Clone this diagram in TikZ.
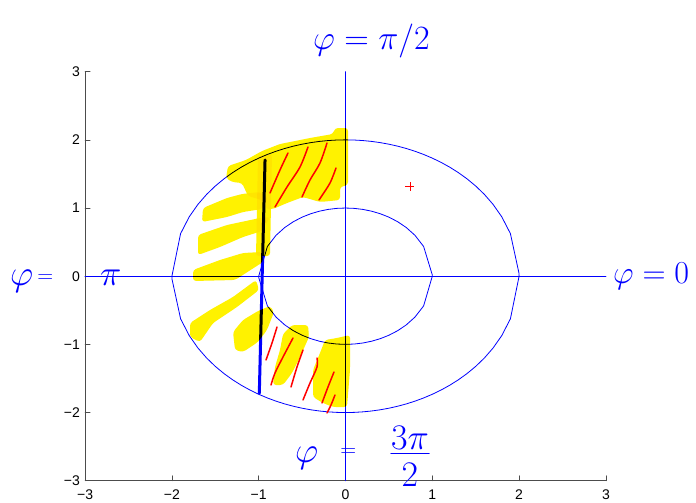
\RequirePackage{fix-cm}
\documentclass[tikz,border=0pt]{standalone}
\usepackage{fontspec}
\setsansfont{Liberation Sans}
\begin{document}
\begin{tikzpicture}[x=1pt, y=-1pt, line join=round, line cap=round,
	axisline/.style={black!70, line width=0.7pt},
	ticklabel/.style={font=\sffamily\fontsize{14}{16}\selectfont, inner sep=0pt},
	curve/.style={blue, line width=0.8pt},
	pen/.style={blue, line width=3pt},
	marker/.style={yellow, rounded corners=3pt},
	hatch/.style={red, line width=1.5pt},
	hand/.style={blue, inner sep=0pt, font=\fontsize{34}{40}\selectfont}]
	
	\useasboundingbox (0,0) rectangle (696,503);
	
	% plot in data units
	\begin{scope}[shift={(345.5,276.2)}, x=86.8pt, y=68.17pt]
		\def\R{2}
		\def\r{1}
		\coordinate (O) at (0,0);
		\coordinate (LB) at (-3,-3);
		\coordinate (LT) at (-3,3);
		\coordinate (RB) at (3,-3);
		\draw[axisline] (LT) -- (LB) -- (RB);
		\foreach \t/\s in {-3/−3,-2/−2,-1/−1,0/0,1/1,2/2,3/3}{
			\draw[axisline] (-3,\t) -- ++(5pt,0);
			\draw[axisline] (\t,-3) -- ++(0,5pt);
			\node[ticklabel, anchor=east] (yt\t) at ([xshift=-5pt]-3,\t) {\s};
			\node[ticklabel, anchor=north] (xt\t) at ([yshift=-9pt]\t,-3) {\s};
		}
		\draw[curve] (-3,0) -- (3,0);
		\draw[curve] (0,-3) -- (0,3);
		\draw[curve] plot[domain=-\R:\R, samples=41] (\x,{sqrt(max(\R*\R-\x*\x,0))})
			-- plot[domain=\R:-\R, samples=41] (\x,{-sqrt(max(\R*\R-\x*\x,0))}) -- cycle;
		\draw[curve] plot[domain=-\r:\r, samples=21] (\x,{sqrt(max(\r*\r-\x*\x,0))})
			-- plot[domain=\r:-\r, samples=21] (\x,{-sqrt(max(\r*\r-\x*\x,0))}) -- cycle;
		\coordinate (PenTop) at (-0.927,1.705);
		\coordinate (PenBot) at (-0.993,-1.718);
		\draw[pen] (PenTop) -- (PenBot);
		\coordinate (M) at (0.743,1.323);
		\draw[red, line width=0.7pt, line cap=butt] ([xshift=-4.5pt]M) -- ([xshift=4.5pt]M);
		\draw[red, line width=0.7pt, line cap=butt] ([yshift=-4.5pt]M) -- ([yshift=4.5pt]M);
	\end{scope}
	
	% highlighter
	\begin{scope}[blend mode=multiply]
		\fill[marker] (226,178) -- (228,166) -- (246,160) -- (262,151) -- (280,144) -- (310,138) -- (333,134) -- (335,128) -- (348,128) -- (348,185) -- (340,187) -- (340,200) -- (320,202) -- (303,197) -- (287,203) -- (273,209) -- (266,209) -- (262,200) -- (248,196) -- (242,183) -- (232,182) -- cycle;
		\fill[marker] (258,156) -- (272,154) -- (270,256) -- (256,256) -- cycle;
		\fill[marker] (203,208) -- (227,198) -- (242,194) -- (260,192) -- (268,198) -- (262,209) -- (243,212) -- (227,217) -- (202,222) -- cycle;
		\fill[marker] (198,235) -- (227,225) -- (260,218) -- (270,217) -- (262,231) -- (243,237) -- (220,247) -- (198,255) -- cycle;
		\fill[marker] (193,270) -- (220,260) -- (243,253) -- (262,252) -- (263,262) -- (235,280) -- (193,281) -- cycle;
		\fill[marker] (190,323) -- (210,310) -- (233,297) -- (256,280) -- (259,290) -- (237,307) -- (213,323) -- (200,342) -- (190,337) -- cycle;
		\fill[marker] (233,332) -- (243,320) -- (258,311) -- (270,306) -- (274,312) -- (267,330) -- (258,342) -- (243,352) -- (235,350) -- cycle;
		\fill[marker] (283,334) -- (292,325) -- (308,325) -- (309,337) -- (300,357) -- (292,373) -- (283,385) -- (273,385) -- (275,367) -- (280,350) -- cycle;
		\fill[marker] (325,340) -- (337,338) -- (350,335) -- (350,370) -- (347,407) -- (333,407) -- (323,403) -- (313,397) -- (313,370) -- (320,353) -- cycle;
	\end{scope}
	
	% hatching
	\draw[hatch] plot[smooth] coordinates {(288,153) (280,170) (270,193)};
	\draw[hatch] plot[smooth] coordinates {(308,147) (300,167) (287,187) (275,207)};
	\draw[hatch] plot[smooth] coordinates {(327,143) (320,163) (310,180) (302,197)};
	\draw[hatch] plot[smooth] coordinates {(336,168) (330,183) (319,200)};
	\draw[hatch] plot[smooth] coordinates {(277,327) (272,343) (266,360)};
	\draw[hatch] plot[smooth] coordinates {(293,338) (283,357) (275,373) (271,385)};
	\draw[hatch] plot[smooth] coordinates {(303,350) (297,367) (291,387)};
	\draw[hatch] plot[smooth] coordinates {(317,358) (317,367) (310,383) (303,400)};
	\draw[hatch] plot[smooth] coordinates {(334,372) (328,387) (322,403)};
	\draw[hatch] plot[smooth] coordinates {(335,395) (331,405) (327,413)};
	
	% handwritten angles
	\newcommand\smalleq{{\fontsize{22}{26}\selectfont$=$}}
	\node[hand, anchor=base west] (phiTop) at (313,50) {$\varphi = \pi/2$};
	\node[hand, anchor=base west, font=\fontsize{36}{42}\selectfont] (phiLeft) at (10,285) {$\varphi$\hspace{4pt}\raisebox{3pt}{\smalleq}\hspace{47pt}$\pi$};
	\node[hand, anchor=base west, font=\fontsize{32}{38}\selectfont] (phiRight) at (613,283) {$\varphi = 0$};
	\node[hand, anchor=base west, font=\fontsize{36}{42}\selectfont] (phiBottom) at (295,462) {$\varphi$\hspace{22pt}\raisebox{6pt}{\smalleq}};
	\node[hand, anchor=base, font=\fontsize{36}{42}\selectfont] (num) at (410,449) {$3\pi$};
	\node[hand, anchor=base, font=\fontsize{36}{42}\selectfont] (den) at (410,486) {$2$};
	\draw[blue, line width=1.3pt] ([yshift=-4pt]num.south west) -- ([yshift=-4pt]num.south east);
	
\end{tikzpicture}
\end{document}
